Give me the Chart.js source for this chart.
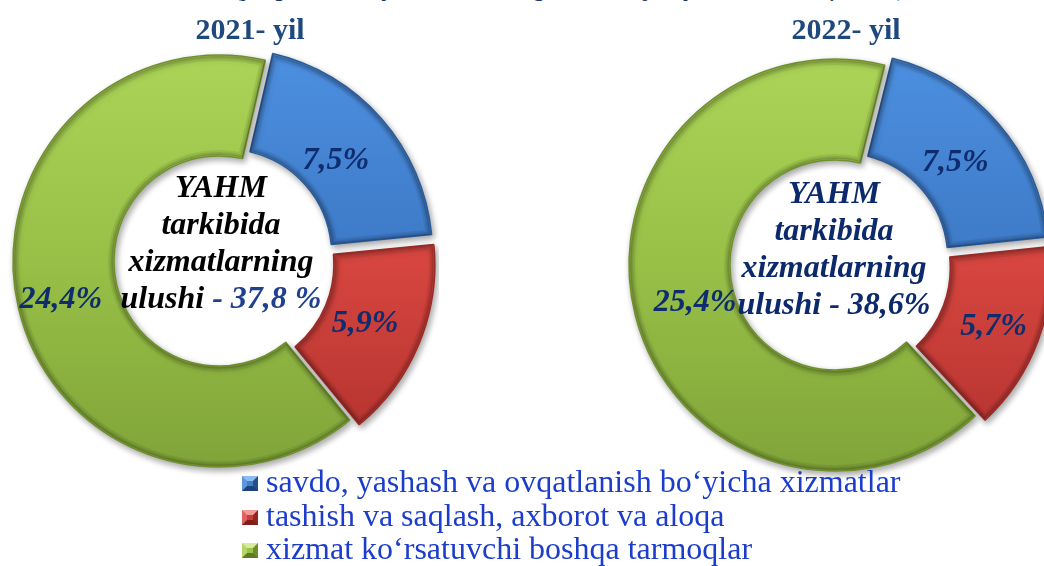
<!DOCTYPE html>
<html><head><meta charset="utf-8">
<script src="https://cdn.jsdelivr.net/npm/chart.js@4.4.1/dist/chart.umd.min.js"></script>
<style>
html,body{margin:0;padding:0;width:1044px;height:566px;overflow:hidden;background:#fff;}
#wrap{position:relative;width:1044px;height:566px;overflow:hidden;}
.cv{position:absolute;width:440px;height:440px;}
.t{position:absolute;font-family:"Liberation Serif","Times New Roman",serif;white-space:nowrap;}
#sub{left:0;width:1142px;top:-28px;font-size:28px;line-height:28px;font-style:italic;color:#1f3864;text-align:center;}
.title{font-size:30px;line-height:30px;font-weight:bold;color:#1f497d;width:300px;text-align:center;top:14px;}
.center{font-size:32px;line-height:37px;font-weight:bold;font-style:italic;width:260px;text-align:center;}
#legend{left:236px;top:465px;width:720px;font-size:32px;line-height:33.5px;color:#1c3ccc;font-family:"Liberation Serif","Times New Roman",serif;}
.row{position:relative;padding-left:30px;height:33.5px;}
.mk{position:absolute;left:6px;top:11px;width:6px;height:5px;border-style:solid;border-width:5px;}
</style></head><body>
<div id="wrap">
  <div class="t" id="sub">(yalpi hududiy mahsulotdagi ulushi, joriy narxlarda, foizda)</div>
  <div class="cv" style="left:-1px;top:41px"><canvas id="c1"></canvas></div>
  <div class="cv" style="left:615px;top:45px"><canvas id="c2"></canvas></div>
  <div class="t title" id="t1" style="left:100px"></div>
  <div class="t title" id="t2" style="left:696px"></div>
  <div class="t center" id="m1" style="left:91px;top:168px;color:#000"></div>
  <div class="t center" id="m2" style="left:704px;top:174px;color:#0c2a6b"></div>
  <div class="t" id="legend"></div>
</div>
<script>
const years = ['2021- yil', '2022- yil'];
const categories = [
  'savdo, yashash va ovqatlanish bo\u2018yicha xizmatlar',
  'tashish va saqlash, axborot va aloqa',
  'xizmat ko\u2018rsatuvchi boshqa tarmoqlar'
];
const values2021 = [7.5, 5.9, 24.4];
const values2022 = [7.5, 5.7, 25.4];

const fills = [
  ['#4e92e3', '#3d79c6', '#2f5fa0'],
  ['#ea5a53', '#d6453f', '#ad2f2b'],
  ['#add558', '#98c047', '#7fa238']
];
const edges = ['#2c5a96', '#9a2a27', '#6f8f2e'];
const legendBevel = [
  ['#8fbcf0', '#5c96dc', '#244f8a', '#1d4479', '#3f7fcf'],
  ['#f29a95', '#e0625c', '#962522', '#7f1d1b', '#c93c37'],
  ['#d6ec9a', '#b7d66a', '#6e8d2c', '#5e7a24', '#9bc24a']
];

const fmt = v => v.toFixed(1).replace('.', ',');
const sum = a => a.reduce((s, v) => s + v, 0);

document.getElementById('t1').textContent = years[0];
document.getElementById('t2').textContent = years[1];
document.getElementById('m1').innerHTML = 'YAHM<br>tarkibida<br>xizmatlarning<br>ulushi <span style="color:#1f3f8f">- ' + fmt(sum(values2021)) + ' %</span>';
document.getElementById('m2').innerHTML = 'YAHM<br>tarkibida<br>xizmatlarning<br>ulushi - ' + fmt(sum(values2022)) + '%';

const lg = document.getElementById('legend');
categories.forEach((c, i) => {
  const b = legendBevel[i];
  const row = document.createElement('div');
  row.className = 'row';
  row.innerHTML = '<span class="mk" style="border-color:' + b[0] + ' ' + b[2] + ' ' + b[3] + ' ' + b[1] + ';background:' + b[4] + '"></span>' + c;
  lg.appendChild(row);
});

// effective translation Chart.js applies for an arc offset
function effOffset(arc) {
  const off = (arc.options.offset || 0) / 4;
  const circ = arc.endAngle - arc.startAngle;
  const fix = 1 - Math.sin(Math.min(Math.PI, circ || 0));
  return off * (1 + fix);
}

const shadowPlugin = {
  id: 'shadow',
  beforeDatasetsDraw(chart) {
    const ctx = chart.ctx;
    ctx.save();
    ctx.shadowColor = 'rgba(0,0,0,0.35)';
    ctx.shadowBlur = 6;
    ctx.shadowOffsetX = 2;
    ctx.shadowOffsetY = 3;
  },
  afterDatasetsDraw(chart) {
    const ctx = chart.ctx;
    ctx.restore();
    // soft bevel along the edges of each arc
    chart.getDatasetMeta(0).data.forEach(arc => {
      const half = (arc.startAngle + arc.endAngle) / 2;
      const o = effOffset(arc);
      ctx.save();
      ctx.translate(Math.cos(half) * o, Math.sin(half) * o);
      ctx.beginPath();
      ctx.arc(arc.x, arc.y, arc.outerRadius - 1, arc.startAngle, arc.endAngle);
      ctx.arc(arc.x, arc.y, arc.innerRadius + 1, arc.endAngle, arc.startAngle, true);
      ctx.closePath();
      ctx.clip();
      ctx.lineJoin = 'miter';
      [[10, 'rgba(0,0,0,0.07)'], [6, 'rgba(0,0,0,0.08)'], [3, 'rgba(0,0,0,0.10)']].forEach(([w, c]) => {
        ctx.lineWidth = w;
        ctx.strokeStyle = c;
        ctx.stroke();
      });
      ctx.restore();
    });
  }
};

const labelPlugin = {
  id: 'vlabels',
  afterDatasetsDraw(chart, args, opts) {
    const ctx = chart.ctx;
    const meta = chart.getDatasetMeta(0);
    const data = chart.data.datasets[0].data;
    ctx.save();
    ctx.font = 'italic bold 32px "Liberation Serif"';
    ctx.fillStyle = '#0f2d6e';
    ctx.textAlign = 'center';
    ctx.textBaseline = 'middle';
    meta.data.forEach((arc, i) => {
      const mid = (arc.startAngle + arc.endAngle) / 2;
      const r = (arc.innerRadius + arc.outerRadius) / 2 + effOffset(arc) + (opts.shift ? opts.shift[i] : 0);
      ctx.fillText(fmt(data[i]) + '%', arc.x + Math.cos(mid) * r, arc.y + Math.sin(mid) * r + 2);
    });
    ctx.restore();
  }
};

function bg(c) {
  const ch = c.chart, a = ch.chartArea;
  const f = fills[c.dataIndex];
  if (!a) return f[1];
  const g = ch.ctx.createLinearGradient(0, a.top, 0, a.bottom);
  g.addColorStop(0, f[0]);
  g.addColorStop(0.5, f[1]);
  g.addColorStop(1, f[2]);
  return g;
}

function makeChart(id, values, rotation, shift) {
  return new Chart(document.getElementById(id), {
    type: 'doughnut',
    data: {
      labels: categories,
      datasets: [{
        data: values,
        backgroundColor: bg,
        borderColor: edges,
        borderWidth: 1.5,
        offset: [38, 36, 0]
      }]
    },
    options: {
      responsive: true,
      maintainAspectRatio: false,
      animation: false,
      events: [],
      rotation: rotation,
      cutout: '51%',
      radius: 206,
      layout: { padding: 0 },
      plugins: {
        legend: { display: false },
        tooltip: { enabled: false },
        vlabels: { shift: shift }
      }
    },
    plugins: [shadowPlugin, labelPlugin]
  });
}

makeChart('c1', values2021, 13, [-10, -8, 7]);
makeChart('c2', values2022, 14, [-6, 3, -11]);
</script>
</body></html>
